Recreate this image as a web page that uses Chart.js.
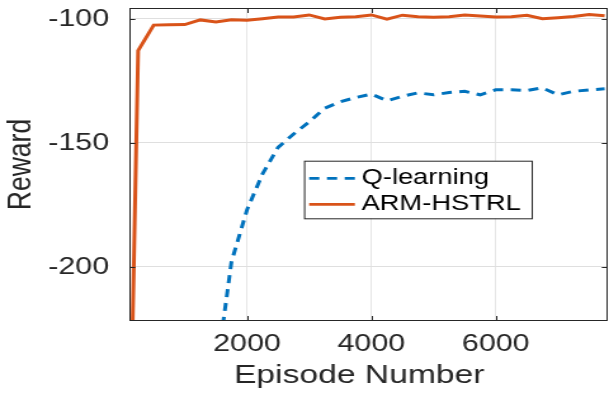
<!DOCTYPE html>
<html>
<head>
<meta charset="utf-8">
<script src="https://cdn.jsdelivr.net/npm/chart.js@4"></script>
<style>
  html, body { margin: 0; padding: 0; background: #fff; overflow: hidden; }
</style>
</head>
<body>
<canvas id="chart" width="480" height="394" style="width:609px;height:394px;display:block"></canvas>
<script>
// Chart data
const episodes = [100, 250, 500, 750, 1000, 1250, 1500, 1750, 2000, 2250, 2500, 2750,
  3000, 3250, 3500, 3750, 4000, 4250, 4500, 4750, 5000, 5250, 5500, 5750,
  6000, 6250, 6500, 6750, 7000, 7250, 7500, 7750];

const qLearning = [-430, -400, -370, -340, -310, -280, -244, -198, -177, -162.5, -151.8, -146.4,
  -141.5, -136, -133.4, -131.7, -130.3, -133, -131.2, -129.8, -130.6, -129.7, -129.2, -130.6,
  -128.6, -128.6, -128.9, -127.8, -130.6, -129.2, -128.6, -128.2];

const armHstrl = [-300, -112.8, -102.5, -102.4, -102.3, -100.4, -101.2, -100.3, -100.5, -99.9, -99.2, -99.2,
  -98.4, -100.0, -99.3, -99.1, -98.4, -100.1, -98.5, -99.1, -99.3, -99.1, -98.4, -98.8,
  -99.2, -99.1, -98.5, -99.9, -99.5, -99.0, -98.2, -98.7];

const xTicks = [2000, 4000, 6000];
const yTicks = [-200, -150, -100];

const FONT = "'Liberation Sans', Arial, Helvetica, sans-serif";
const TEXT = "#262626";

function toPoints(xs, ys) {
  return xs.map((x, i) => ({ x: x, y: ys[i] }));
}

// MATLAB style box with inward ticks
const axisBox = {
  id: "axisBox",
  afterDatasetsDraw(chart) {
    const { ctx, chartArea: a, scales } = chart;
    ctx.save();
    ctx.strokeStyle = TEXT;
    ctx.lineWidth = 1;
    ctx.strokeRect(a.left + 0.5, a.top + 0.5, a.right - a.left - 1, a.bottom - a.top - 1);
    ctx.beginPath();
    xTicks.forEach((v) => {
      const px = Math.round(scales.x.getPixelForValue(v)) + 0.5;
      ctx.moveTo(px, a.bottom);
      ctx.lineTo(px, a.bottom - 5);
      ctx.moveTo(px, a.top);
      ctx.lineTo(px, a.top + 5);
    });
    yTicks.forEach((v) => {
      const py = Math.round(scales.y.getPixelForValue(v)) + 0.5;
      ctx.moveTo(a.left, py);
      ctx.lineTo(a.left + 4.7, py);
      ctx.moveTo(a.right, py);
      ctx.lineTo(a.right - 4.7, py);
    });
    ctx.stroke();
    ctx.restore();
  },
};

// Legend box inside the axes
const insideLegend = {
  id: "insideLegend",
  afterDraw(chart) {
    const ctx = chart.ctx;
    const box = { x: 239.6, y: 160.7, w: 179.4, h: 57.6 };
    ctx.save();
    ctx.fillStyle = "#fff";
    ctx.fillRect(box.x, box.y, box.w, box.h);
    ctx.strokeStyle = TEXT;
    ctx.lineWidth = 1;
    ctx.strokeRect(box.x + 0.5, box.y + 0.5, box.w, box.h);

    const rows = [178.3, 204.3];
    chart.data.datasets.forEach((ds, i) => {
      const y = rows[i];
      ctx.beginPath();
      ctx.strokeStyle = ds.borderColor;
      ctx.lineWidth = 2.7;
      ctx.setLineDash(ds.borderDash || []);
      ctx.moveTo(243.7, y);
      ctx.lineTo(279.7, y);
      ctx.stroke();
      ctx.setLineDash([]);
      ctx.fillStyle = "#000";
      ctx.font = "21.5px " + FONT;
      ctx.textBaseline = "middle";
      ctx.textAlign = "left";
      ctx.fillText(ds.label, 285, y);
    });
    ctx.restore();
  },
};

new Chart(document.getElementById("chart"), {
  type: "line",
  data: {
    datasets: [
      {
        label: "Q-learning",
        data: toPoints(episodes, qLearning),
        borderColor: "#0072BD",
        borderWidth: 3,
        borderDash: [8, 6],
        pointRadius: 0,
        tension: 0,
        fill: false,
      },
      {
        label: "ARM-HSTRL",
        data: toPoints(episodes, armHstrl),
        borderColor: "#D95319",
        borderWidth: 3,
        pointRadius: 0,
        tension: 0,
        fill: false,
      },
    ],
  },
  options: {
    responsive: false,
    devicePixelRatio: 1,
    animation: false,
    layout: { padding: { top: 8, right: 1, left: 0, bottom: 0 } },
    plugins: {
      legend: { display: false },
      tooltip: { enabled: false },
    },
    scales: {
      x: {
        type: "linear",
        min: 110,
        max: 7800,
        afterBuildTicks: (scale) => {
          scale.ticks = xTicks.map((v) => ({ value: v }));
        },
        afterFit: (scale) => {
          scale.height = 73;
          scale.paddingLeft = 0;
          scale.paddingRight = 0;
        },
        ticks: {
          autoSkip: false,
          maxRotation: 0,
          padding: 9,
          color: TEXT,
          font: { family: FONT, size: 24 },
          callback: (v) => String(v),
        },
        grid: { color: "#dfdfdf", lineWidth: 0.8, drawTicks: false },
        border: { display: false },
        title: {
          display: true,
          text: "Episode Number  ",
          color: TEXT,
          font: { family: FONT, size: 26.5 },
          padding: { top: 0, bottom: 2.6 },
        },
      },
      y: {
        type: "linear",
        min: -221.8,
        max: -95.6,
        afterBuildTicks: (scale) => {
          scale.ticks = yTicks.map((v) => ({ value: v }));
        },
        afterFit: (scale) => {
          scale.width = 102;
          scale.paddingTop = 0;
          scale.paddingBottom = 0;
        },
        ticks: {
          autoSkip: false,
          padding: 16,
          color: TEXT,
          font: { family: FONT, size: 24 },
          callback: (v) => String(v),
        },
        grid: { color: "#dfdfdf", lineWidth: 1, drawTicks: false, tickLength: 0 },
        border: { display: false },
        title: {
          display: true,
          text: "Reward",
          color: TEXT,
          font: { family: FONT, size: 26.5 },
          padding: { top: 1, bottom: 0 },
        },
      },
    },
  },
  plugins: [axisBox, insideLegend],
});
</script>
</body>
</html>
